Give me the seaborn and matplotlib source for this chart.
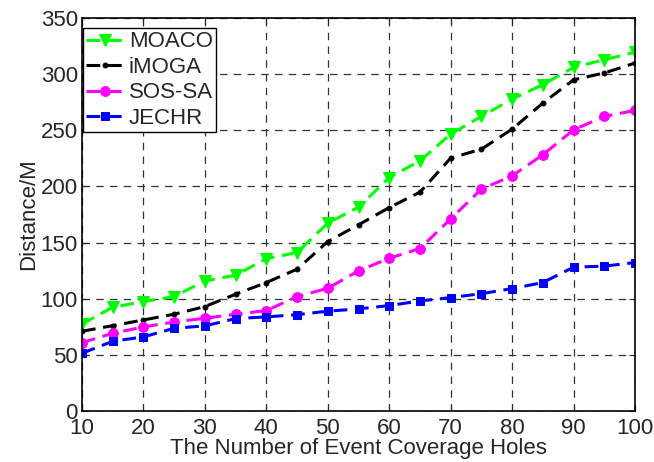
import numpy as np
import pandas as pd
import matplotlib
matplotlib.use("Agg")
import matplotlib.pyplot as plt
import seaborn as sns

holes = [10, 15, 20, 25, 30, 35, 40, 45, 50, 55, 60, 65, 70, 75, 80, 85, 90, 95, 100]
moaco = [77.5, 92.4, 97.4, 101.9, 115.9, 120.9, 135.7, 141.1, 167.3, 181.5,
         207.9, 222.8, 246.6, 262.3, 277.8, 290.6, 306.0, 312.8, 319.4]
imoga = [71.0, 76.0, 81.1, 86.2, 93.0, 104.0, 114.4, 126.3, 150.9, 165.8,
         181.2, 194.9, 225.2, 233.2, 251.0, 274.2, 295.0, 301.0, 309.9]
sossa = [60.9, 69.2, 74.9, 79.3, 82.6, 86.2, 89.4, 101.9, 109.3, 124.8,
         136.0, 144.7, 171.1, 197.6, 209.4, 228.2, 250.4, 262.3, 267.7]
jechr = [51.4, 62.1, 66.0, 73.7, 75.8, 82.3, 83.8, 85.8, 88.9, 90.9,
         93.9, 98.0, 101.0, 104.5, 109.0, 114.4, 128.1, 129.0, 132.2]
names = ["MOACO", "iMOGA", "SOS-SA", "JECHR"]
x_ticks = [10, 20, 30, 40, 50, 60, 70, 80, 90, 100]
y_ticks = [0, 50, 100, 150, 200, 250, 300, 350]

sns.set_style("white")
plt.rcParams['font.family'] = ['Liberation Sans', 'DejaVu Sans']

fig = plt.figure(figsize=(6.54, 4.62), dpi=100)
ax = fig.add_axes([82/654, 1 - 411/462, (635-82)/654, (411-18)/462])

series = [moaco, imoga, sossa, jechr]
colors = ["#00ff00", "#000000", "#ff00ff", "#0000ff"]
markers = ["v", "o", "o", "s"]
msizes = [8, 3.5, 7, 6]

for name, vals, c, m, ms in zip(names, series, colors, markers, msizes):
    df = pd.DataFrame({"x": holes, "y": vals})
    sns.lineplot(data=df, x="x", y="y", ax=ax, color=c, marker=m,
                 markersize=ms, markeredgecolor=c, markerfacecolor=c,
                 linewidth=2.2, label=name)
for l in ax.get_lines():
    l.set_dashes([4.5, 2.5])

ax.set_xlim(10, 100)
ax.set_ylim(0, 350)
ax.set_xticks(x_ticks)
ax.set_yticks(y_ticks)
ax.tick_params(direction="in", length=4, width=0.8, labelsize=16,
               top=True, right=True, bottom=True, left=True, pad=3)
ax.tick_params(axis="x", pad=5)
ax.grid(True, color="#333333", linestyle=(0, (6, 5)), linewidth=0.9)
for s in ax.spines.values():
    s.set_color("black")
    s.set_linewidth(1.2)

ax.set_xlabel("The Number of Event Coverage Holes", fontsize=16, labelpad=-1)
ax.set_ylabel("Distance/M", fontsize=16, labelpad=1)

leg = ax.legend(loc="upper left", bbox_to_anchor=(0.0, 1 - 9/393),
                fontsize=16, frameon=True, fancybox=False,
                edgecolor="black", framealpha=1, handlelength=1.7,
                handletextpad=0.2, borderpad=0.15, labelspacing=0.2,
                borderaxespad=0.05)
leg.get_frame().set_linewidth(1.0)

fig.savefig("out.png", dpi=100)
